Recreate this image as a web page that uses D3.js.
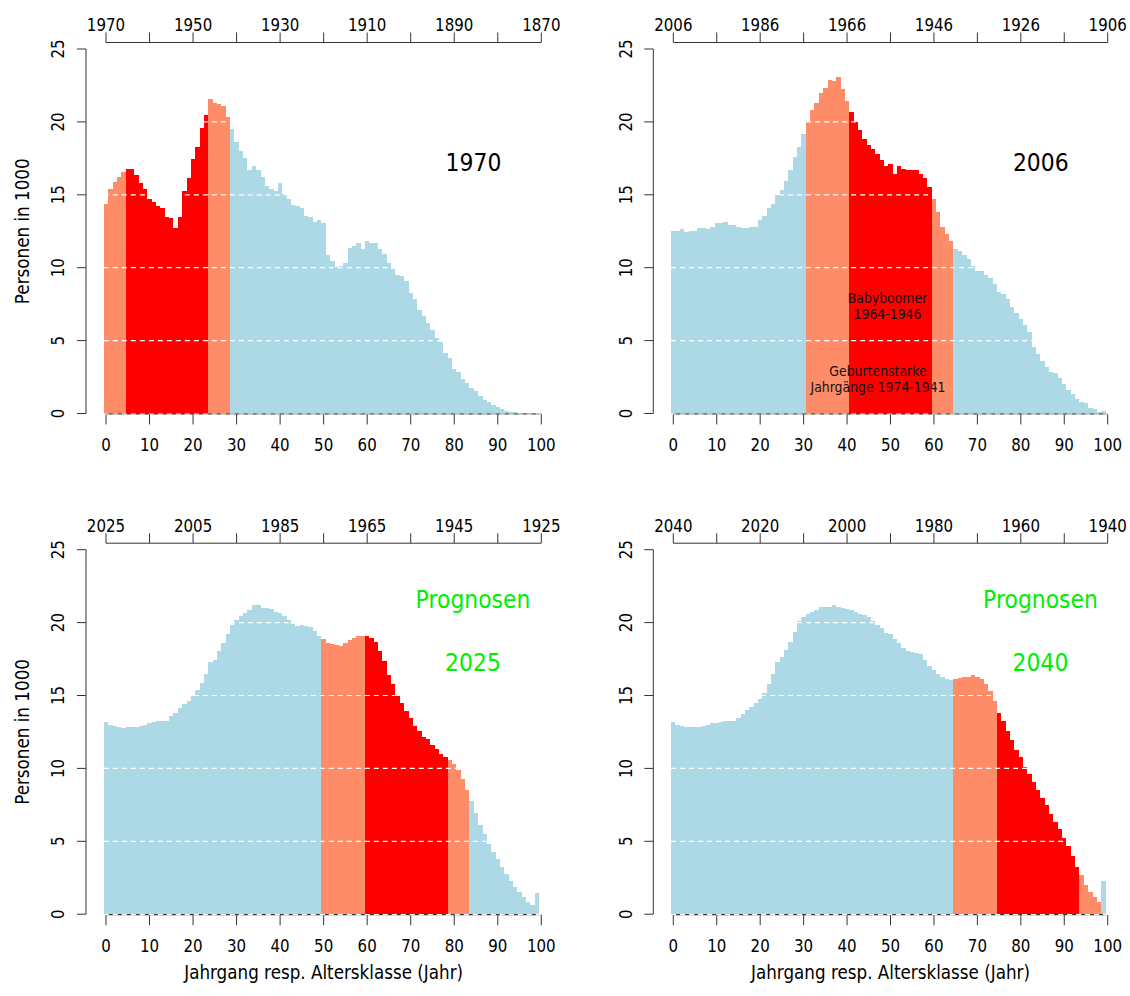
<!DOCTYPE html>
<html>
<head>
<meta charset="utf-8">
<script src="https://cdn.jsdelivr.net/npm/d3@7/dist/d3.min.js"></script>
<style>
  body { margin: 0; background: #fff; }
  text { font-family: 'DejaVu Sans', Verdana, sans-serif; }
</style>
</head>
<body>
<svg id="chart" width="1130" height="996"></svg>
<script>
// Age classes 0..100 (one bar per year of age)
const ages = d3.range(0, 101);

// Persons (in 1000) per age class
const pop1970 = [14.37,15.40,15.88,16.22,16.56,16.77,16.77,16.36,15.81,15.40,
  14.71,14.51,14.23,14.10,13.48,13.41,12.73,13.48,15.26,16.16,
  17.46,18.28,19.58,20.48,21.57,21.30,21.23,21.09,20.34,19.52,
  18.62,18.01,17.53,16.70,16.98,16.70,16.22,15.61,15.40,15.29,
  15.81,15.06,14.71,14.30,14.23,14.10,13.55,13.48,13.14,13.27,
  13.07,10.87,10.46,10.03,10.10,10.33,11.33,11.49,11.70,11.26,
  11.83,11.70,11.70,11.29,10.94,10.33,9.91,9.50,9.43,9.09,
  8.27,7.86,7.10,6.69,6.21,5.73,5.18,4.91,4.15,3.81,
  3.06,2.85,2.37,2.09,1.75,1.55,1.20,0.93,0.79,0.59,
  0.45,0.31,0.17,0.12,0.08,0.05,0.03,0.02,0.01,0.01,0];

const pop2006 = [12.52,12.52,12.66,12.47,12.52,12.52,12.73,12.73,12.66,12.79,
  13.07,13.07,13.14,12.93,12.93,12.79,12.73,12.73,12.79,12.79,
  13.27,13.55,14.10,14.37,14.99,15.33,15.95,16.70,17.60,18.28,
  19.17,20.02,20.82,21.30,21.98,22.33,22.88,22.81,23.08,22.26,
  21.44,20.68,20.00,19.45,18.83,18.42,18.14,17.80,17.39,16.98,
  17.12,16.43,16.98,16.77,16.70,16.70,16.70,16.43,16.16,15.54,
  14.71,13.82,12.79,12.31,11.83,11.29,11.15,10.87,10.60,10.12,
  9.78,9.78,9.50,9.30,8.88,8.34,8.20,7.86,7.31,6.90,
  6.49,6.07,5.59,4.56,4.08,3.60,3.19,2.85,2.78,2.44,
  2.03,1.61,1.34,1.00,0.79,0.72,0.38,0.31,0.11,0.17,0];

const pop2025 = [13.18,12.98,12.91,12.84,12.77,12.84,12.84,12.84,12.91,12.98,
  13.11,13.18,13.25,13.25,13.25,13.60,13.80,14.14,14.42,14.62,
  14.96,15.38,15.86,16.47,17.30,17.43,18.05,18.60,19.22,19.84,
  20.18,20.45,20.66,20.86,21.20,21.20,21.00,21.00,20.93,20.72,
  20.66,20.45,20.18,19.90,19.77,19.84,19.77,19.70,19.42,19.08,
  18.87,18.60,18.53,18.46,18.40,18.60,18.81,18.95,19.08,19.08,
  19.08,18.95,18.67,18.05,17.36,16.40,15.79,14.96,14.48,13.94,
  13.46,12.91,12.57,12.15,12.02,11.61,11.33,10.99,10.78,10.58,
  10.30,9.89,9.27,8.52,7.76,6.94,6.12,5.50,4.82,4.27,
  3.79,3.24,2.76,2.28,1.87,1.52,1.18,0.84,0.63,1.45,0];

const pop2040 = [13.18,12.98,12.91,12.84,12.84,12.84,12.84,12.91,12.98,13.11,
  13.11,13.18,13.25,13.25,13.25,13.46,13.73,14.00,14.21,14.48,
  14.76,15.17,15.79,16.47,17.30,17.64,18.12,18.67,19.36,20.11,
  20.39,20.59,20.73,20.86,21.07,21.07,21.07,21.21,21.07,21.00,
  20.93,20.86,20.73,20.59,20.52,20.39,20.11,19.84,19.63,19.30,
  19.22,18.87,18.60,18.26,18.05,17.98,17.91,17.84,17.43,17.02,
  16.74,16.47,16.26,16.12,16.05,16.12,16.19,16.26,16.26,16.40,
  16.26,16.12,15.79,15.31,14.62,13.80,13.25,12.57,11.95,11.26,
  10.78,10.09,9.62,9.07,8.52,7.97,7.49,6.87,6.32,5.84,
  5.23,4.68,3.99,3.24,2.69,2.00,1.52,1.18,0.84,2.28,0];

// Reference years of the four pyramids
const panelYears = [1970, 2006, 2025, 2040];

// Birth cohorts that are highlighted
const strongCohorts = [1941, 1974];   // Geburtenstarke Jahrgänge
const boomerCohorts = [1946, 1964];   // Babyboomer

// Axis ticks and labels
const xTicks = [0, 10, 20, 30, 40, 50, 60, 70, 80, 90, 100];
const yTicks = [0, 5, 10, 15, 20, 25];
const gridLevels = [0, 5, 10, 15, 20];
const topTickAges = [0, 10, 20, 30, 40, 50, 60, 70, 80, 90, 100];
const topLabelAges = [0, 20, 40, 60, 80, 100];
const topLabels1970 = ["1970", "1950", "1930", "1910", "1890", "1870"];
const topLabels2006 = ["2006", "1986", "1966", "1946", "1926", "1906"];
const topLabels2025 = ["2025", "2005", "1985", "1965", "1945", "1925"];
const topLabels2040 = ["2040", "2020", "2000", "1980", "1960", "1940"];

const yTitle = "Personen in 1000";
const xTitle = "Jahrgang resp. Altersklasse (Jahr)";

const colBlue = "#add8e6", colSalmon = "#ff8c69", colRed = "#ff0000", colGreen = "#00ee00";

const svg = d3.select("#chart");
const SX = 0.86; // horizontal squeeze so the text runs narrow like Tahoma

function label(g, x, y, str, opt = {}) {
  const size = opt.size || 17.5;
  const rot = opt.rotate ? ` rotate(${opt.rotate})` : "";
  return g.append("text")
    .attr("transform", `translate(${x},${y})${rot} scale(${SX},1)`)
    .attr("text-anchor", opt.anchor || "middle")
    .attr("dy", opt.dy === undefined ? "0.36em" : opt.dy)
    .attr("font-size", size)
    .attr("fill", opt.fill || "#000")
    .text(str);
}

const panels = [
  { year: panelYears[0], values: pop1970, tops: topLabels1970, left: 106, right: 541.3, base: 413.5, top: 49,
    yTitle: true, xTitle: false, heads: [{t: "1970", y: 170.7}], headColor: "#000", headX: 473.5 },
  { year: panelYears[1], values: pop2006, tops: topLabels2006, left: 673.3, right: 1107.7, base: 413.5, top: 49,
    yTitle: false, xTitle: false, heads: [{t: "2006", y: 170.7}], headColor: "#000", headX: 1040.8 },
  { year: panelYears[2], values: pop2025, tops: topLabels2025, left: 106, right: 541.3, base: 914.2, top: 549.7,
    yTitle: true, xTitle: true, heads: [{t: "Prognosen", y: 608}, {t: "2025", y: 670.7}], headColor: colGreen, headX: 473 },
  { year: panelYears[3], values: pop2040, tops: topLabels2040, left: 673.3, right: 1107.7, base: 914.2, top: 549.7,
    yTitle: false, xTitle: true, heads: [{t: "Prognosen", y: 608}, {t: "2040", y: 670.7}], headColor: colGreen, headX: 1040.5 }
];

function barColour(year, age) {
  const born = year - age - 1;
  if (born >= boomerCohorts[0] && born <= boomerCohorts[1]) return colRed;
  if (born >= strongCohorts[0] && born <= strongCohorts[1]) return colSalmon;
  return colBlue;
}

panels.forEach(p => {
  const g = svg.append("g");
  const x = d3.scaleLinear().domain([0, 100]).range([p.left, p.right]);
  const y = d3.scaleLinear().domain([0, 25]).range([p.base, p.top]);
  const bw = x(1) - x(0);

  // bars
  g.append("g").attr("shape-rendering", "crispEdges")
    .selectAll("rect").data(ages).join("rect")
    .attr("x", a => x(a) - bw / 2)
    .attr("width", bw + 0.01)
    .attr("y", a => y(p.values[a]))
    .attr("height", a => y(0) - y(p.values[a]))
    .attr("fill", a => barColour(p.year, a));

  // bottom axis line (sits on the zero level)
  g.append("line").attr("x1", x(0)).attr("x2", x(100))
    .attr("y1", y(0) + 0.5).attr("y2", y(0) + 0.5)
    .attr("stroke", "#333").attr("stroke-width", 1.2);

  // white dashed reference lines
  g.selectAll("line.grid").data(gridLevels).join("line")
    .attr("class", "grid")
    .attr("x1", x(-0.5)).attr("x2", x(100.5))
    .attr("y1", v => y(v) + (v === 0 ? 0.5 : 0)).attr("y2", v => y(v) + (v === 0 ? 0.5 : 0))
    .attr("stroke", "#fff").attr("stroke-width", 1.2)
    .attr("stroke-dasharray", "5,4");

  // bottom ticks and labels
  xTicks.forEach(t => {
    g.append("line").attr("x1", x(t)).attr("x2", x(t))
      .attr("y1", y(0) + 1).attr("y2", y(0) + 11)
      .attr("stroke", "#333").attr("stroke-width", 1);
    label(g, x(t), y(0) + 31.5, String(t));
  });

  // top axis: birth years
  const topY = p.top - 6.5;
  g.append("line").attr("x1", x(0)).attr("x2", x(100))
    .attr("y1", topY).attr("y2", topY).attr("stroke", "#333");
  topTickAges.forEach(t => {
    g.append("line").attr("x1", x(t)).attr("x2", x(t))
      .attr("y1", topY).attr("y2", topY - 10).attr("stroke", "#333");
  });
  topLabelAges.forEach((t, i) => label(g, x(t), p.top - 24, p.tops[i]));

  // left axis
  const ax = p.left - 20;
  g.append("line").attr("x1", ax).attr("x2", ax)
    .attr("y1", y(0)).attr("y2", y(25)).attr("stroke", "#333");
  yTicks.forEach(t => {
    g.append("line").attr("x1", ax - 9).attr("x2", ax)
      .attr("y1", y(t)).attr("y2", y(t)).attr("stroke", "#333");
    label(g, ax - 28, y(t), String(t), { rotate: -90 });
  });

  if (p.yTitle) label(g, 22, (y(0) + y(25)) / 2, yTitle, { rotate: -90, size: 19.5 });
  if (p.xTitle) label(g, (x(0) + x(100)) / 2, 972, xTitle, { size: 19.5 });

  // headline text
  p.heads.forEach(h => label(g, p.headX, h.y, h.t, { size: 25.5, fill: p.headColor, dy: 0 }));
});

// cohort notes in the 2006 panel
const notes = svg.append("g");
label(notes, 887.5, 303, "Babyboomer", { size: 14.5, fill: "#111", dy: 0 });
label(notes, 887.5, 319, "1964-1946", { size: 14.5, fill: "#111", dy: 0 });
label(notes, 878, 375.5, "Geburtenstarke", { size: 14.5, fill: "#111", dy: 0 });
label(notes, 878, 392, "Jahrgänge 1974-1941", { size: 14.5, fill: "#111", dy: 0 });
</script>
</body>
</html>
